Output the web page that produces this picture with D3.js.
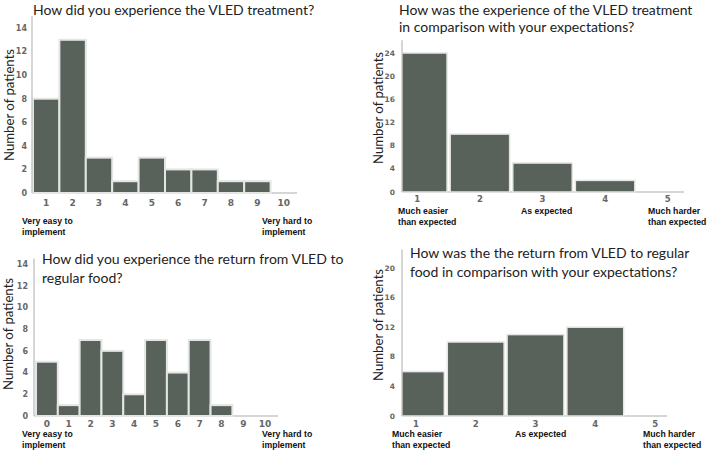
<!DOCTYPE html>
<html>
<head>
<meta charset="utf-8">
<script src="https://cdn.jsdelivr.net/npm/d3@7"></script>
<style>
  html, body { margin: 0; padding: 0; background: #fff; }
  svg { display: block; }
  .title { font-family: Lato, "Open Sans", sans-serif; font-size: 14px; fill: #222; }
  .ylab { font-family: Lato, "Open Sans", sans-serif; font-size: 13.2px; fill: #222; }
  .tick { font-family: "DejaVu Sans", sans-serif; font-weight: bold; fill: #666; }
  .cat { font-family: "Liberation Sans", Arial, sans-serif; font-weight: bold; font-size: 8.7px; fill: #111; }
</style>
</head>
<body>
<svg id="chart" width="709" height="451"></svg>
<script>
// ---- Data ----
const p1Title = ["How did you experience the VLED treatment?"];
const p1Categories = ["1","2","3","4","5","6","7","8","9","10"];
const p1Values = [8, 13, 3, 1, 3, 2, 2, 1, 1, 0];
const p1YTicks = [0, 2, 4, 6, 8, 10, 12, 14];
const p1EndLabels = [["Very easy to", "implement"], ["Very hard to", "implement"]];

const p2Title = ["How was the experience of the VLED treatment", "in comparison with your expectations?"];
const p2Categories = ["1","2","3","4","5"];
const p2Values = [24, 10, 5, 2, 0];
const p2YTicks = [0, 4, 8, 12, 16, 20, 24];
const p2CatLabels = [["Much easier", "than expected"], ["As expected"], ["Much harder", "than expected"]];

const p3Title = ["How did you experience the return from VLED to", "regular food?"];
const p3Categories = ["0","1","2","3","4","5","6","7","8","9","10"];
const p3Values = [5, 1, 7, 6, 2, 7, 4, 7, 1, 0, 0];
const p3YTicks = [0, 2, 4, 6, 8, 10, 12, 14];
const p3EndLabels = [["Very easy to", "implement"], ["Very hard to", "implement"]];

const p4Title = ["How was the the return from VLED to regular", "food in comparison with your expectations?"];
const p4Categories = ["1","2","3","4","5"];
const p4Values = [6, 10, 11, 12, 0];
const p4YTicks = [0, 4, 8, 12, 16, 20];
const p4CatLabels = [["Much easier", "than expected"], ["As expected"], ["Much harder", "than expected"]];

const yLabel = "Number of patients";

const svg = d3.select("#chart");
const BAR = "#58615a";
const AXIS = "#c9c9c9";

function panel(cfg, id) {
  const g = svg.append("g");
  const x = d3.scaleBand().domain(cfg.categories).range(cfg.xRange)
    .paddingInner(cfg.padIn).paddingOuter(cfg.padOut);
  const y = d3.scaleLinear().domain([0, cfg.yMax]).range(cfg.yRange);

  // clip at the y axis
  svg.append("clipPath").attr("id", "clip" + id).append("rect")
    .attr("x", cfg.axisX).attr("y", 0).attr("width", 709).attr("height", 451);

  // baseline
  g.append("line").attr("x1", cfg.axisX).attr("x2", cfg.baseEnd)
    .attr("y1", y(0)).attr("y2", y(0)).attr("stroke", AXIS).attr("stroke-width", 1.5);

  // bars
  g.append("g").attr("clip-path", `url(#clip${id})`)
    .selectAll("rect").data(cfg.categories.map((c, i) => ({c, v: cfg.values[i]})).filter(d => d.v > 0))
    .join("rect")
    .attr("x", d => x(d.c)).attr("width", x.bandwidth())
    .attr("y", d => y(d.v)).attr("height", d => y(0) - y(d.v))
    .attr("fill", BAR).attr("stroke", "#e4e6e4").attr("stroke-width", cfg.strokeW);

  // y axis line
  g.append("line").attr("x1", cfg.axisX).attr("x2", cfg.axisX)
    .attr("y1", y(0)).attr("y2", y(cfg.axisTop)).attr("stroke", AXIS).attr("stroke-width", 1.5);

  // y tick labels
  g.selectAll("text.yt").data(cfg.yTicks).join("text")
    .attr("class", "tick yt").attr("x", cfg.axisX - cfg.yTickGap).attr("y", d => y(d))
    .attr("dy", "0.35em").attr("text-anchor", "end").style("font-size", cfg.yTickSize + "px").text(d => d);

  // x tick labels
  g.selectAll("text.xt").data(cfg.categories).join("text")
    .attr("class", "tick xt").attr("x", d => x(d) + x.bandwidth() / 2).attr("y", cfg.xTickY)
    .attr("text-anchor", "middle").style("font-size", cfg.xTickSize + "px").text(d => d);

  // title
  g.append("text").attr("class", "title")
    .selectAll("tspan").data(cfg.title).join("tspan")
    .attr("x", cfg.titleX).attr("y", (d, i) => cfg.titleY + i * cfg.titleGap).text(d => d);

  // y label
  g.append("text").attr("class", "ylab")
    .attr("transform", `translate(${cfg.ylabX},${cfg.ylabY}) rotate(-90)`)
    .attr("text-anchor", "middle").text(yLabel);

  // category labels
  cfg.catLabels.forEach((lines, k) => {
    g.append("text").attr("class", "cat")
      .selectAll("tspan").data(lines).join("tspan")
      .attr("x", cfg.catX[k]).attr("y", (d, i) => cfg.catY + i * 10.5).text(d => d);
  });
}

panel({
  categories: p1Categories, values: p1Values, yTicks: p1YTicks, title: p1Title, catLabels: p1EndLabels,
  xRange: [33, 297], padIn: 0, padOut: 0, strokeW: 2,
  yMax: 14, yRange: [193, 28], axisTop: 15, axisX: 32, baseEnd: 297,
  yTickGap: 5, yTickSize: 8, xTickSize: 9,
  xTickY: 206, titleX: 33, titleY: 15, titleGap: 16.5, ylabX: 14, ylabY: 105,
  catX: [22, 262], catY: 224
}, 1);

panel({
  categories: p2Categories, values: p2Values, yTicks: p2YTicks, title: p2Title, catLabels: p2CatLabels,
  xRange: [386, 699], padIn: 0.05, padOut: 0.025, strokeW: 1.5,
  yMax: 24, yRange: [192, 53], axisTop: 26.2, axisX: 402, baseEnd: 684,
  yTickGap: 7, yTickSize: 7.5, xTickSize: 8.5,
  xTickY: 202, titleX: 399, titleY: 15, titleGap: 16.5, ylabX: 383, ylabY: 108,
  catX: [398, 521, 648], catY: 214
}, 2);

panel({
  categories: p3Categories, values: p3Values, yTicks: p3YTicks, title: p3Title, catLabels: p3EndLabels,
  xRange: [36, 276], padIn: 0, padOut: 0, strokeW: 2,
  yMax: 14, yRange: [416, 264], axisTop: 14.5, axisX: 34, baseEnd: 278,
  yTickGap: 6, yTickSize: 8, xTickSize: 9,
  xTickY: 427, titleX: 42, titleY: 264, titleGap: 19, ylabX: 13, ylabY: 334,
  catX: [22, 262], catY: 437
}, 3);

panel({
  categories: p4Categories, values: p4Values, yTicks: p4YTicks, title: p4Title, catLabels: p4CatLabels,
  xRange: [386, 685], padIn: 0.05, padOut: 0.025, strokeW: 1.5,
  yMax: 20, yRange: [416, 268], axisTop: 22.5, axisX: 402, baseEnd: 667,
  yTickGap: 7, yTickSize: 7.5, xTickSize: 8.5,
  xTickY: 427, titleX: 410, titleY: 258, titleGap: 19, ylabX: 383, ylabY: 325,
  catX: [392, 515, 643], catY: 437
}, 4);
</script>
</body>
</html>
